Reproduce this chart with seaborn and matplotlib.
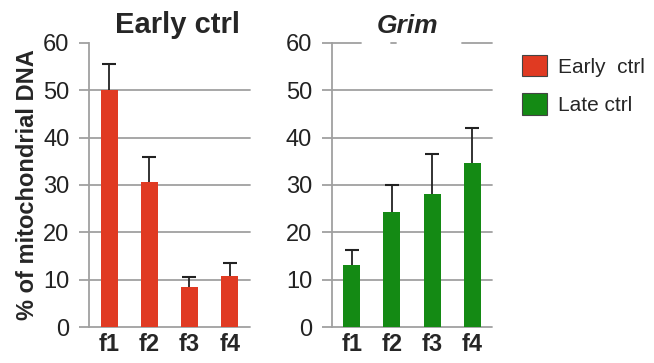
import pandas as pd
import matplotlib.pyplot as plt
import seaborn as sns

# data
fractions = ["f1", "f2", "f3", "f4"]
early_mean = [50.0, 30.7, 8.4, 10.8]
early_err = [5.6, 5.3, 2.2, 2.7]
grim_mean = [13.2, 24.3, 28.1, 34.6]
grim_err = [3.0, 5.7, 8.4, 7.5]

panel_titles = ["Early ctrl", "Grim"]
legend_labels = ["Early  ctrl", "Late ctrl"]
red = "#E03A22"
green = "#148A14"
grid_col = "#A0A0A0"

sns.set_style("white")
plt.rcParams["font.family"] = ["Liberation Sans", "DejaVu Sans"]

fig = plt.figure(figsize=(6.54, 3.63), dpi=100)
ax1 = fig.add_axes([0.136, 0.099, 0.246, 0.783])
ax2 = fig.add_axes([0.507, 0.099, 0.246, 0.783])

panels = [(ax1, early_mean, early_err, red), (ax2, grim_mean, grim_err, green)]

for i, (ax, means, errs, col) in enumerate(panels):
    df = pd.DataFrame({"fraction": fractions, "value": means})
    sns.barplot(data=df, x="fraction", y="value", color=col, width=0.42,
                saturation=1, errorbar=None, ax=ax, zorder=3, linewidth=0)
    # symmetric bars, lower half hidden behind the bar
    ax.errorbar(range(len(fractions)), means, yerr=errs,
                fmt="none", ecolor="#222222", elinewidth=1.3, capsize=5,
                capthick=1.5, zorder=2)
    ax.set_xlim(-0.5, 3.5)
    ax.set_ylim(0, 60)
    ax.set_yticks(range(0, 70, 10))
    ax.set_xlabel("")
    ax.set_ylabel("")
    for y in range(0, 60, 10):
        ax.axhline(y, color=grid_col, lw=1.3, zorder=1, clip_on=False)
    for s in ["top", "right", "bottom"]:
        ax.spines[s].set_visible(False)
    ax.spines["left"].set_color(grid_col)
    ax.spines["left"].set_linewidth(1.3)
    ax.tick_params(axis="y", length=7, width=1.3, color=grid_col, labelsize=17,
                   pad=7, labelcolor="#222222", left=True)
    ax.tick_params(axis="x", length=0, labelsize=17, pad=4)
    for lab in ax.get_xticklabels():
        lab.set_fontweight("bold")

# top gridline is partly hidden in the original
ax2.axhline(60, xmin=0, xmax=0.18, color=grid_col, lw=1.3, clip_on=False)
ax2.axhline(60, xmin=0.37, xmax=0.40, color=grid_col, lw=1.3, clip_on=False)
ax2.axhline(60, xmin=0.81, xmax=1.0, color=grid_col, lw=1.3, clip_on=False)

ax1.set_title(panel_titles[0], fontsize=21, fontweight="bold", pad=7, x=0.55)
ax2.set_title(panel_titles[1], fontsize=19, fontweight="bold", style="italic", pad=7, x=0.47)
ax1.set_ylabel("% of mitochondrial DNA", fontsize=17, fontweight="bold", labelpad=3)

handles = [plt.Rectangle((0, 0), 1, 1, facecolor=c, edgecolor="#444444", lw=0.8)
           for c in [red, green]]
fig.legend(handles, legend_labels, loc="upper left", bbox_to_anchor=(0.77, 0.9),
           frameon=False, fontsize=15, handlelength=1.2, handleheight=1.2,
           labelspacing=0.8, handletextpad=0.5)

fig.savefig("out.png", dpi=100)
